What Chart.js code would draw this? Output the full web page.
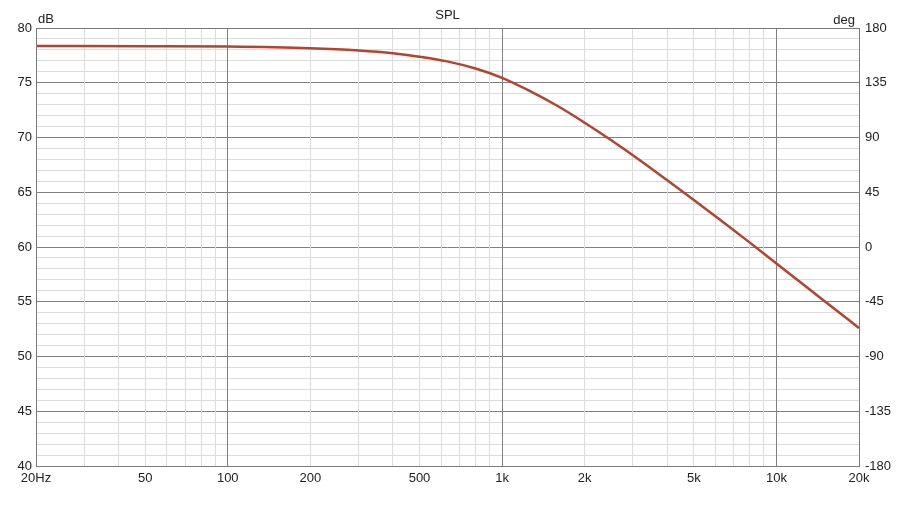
<!DOCTYPE html>
<html lang="en">
<head>
  <meta charset="UTF-8">
  <title>SPL</title>
  <script src="https://cdn.jsdelivr.net/npm/chart.js"></script>
  <style>
    body { margin: 0; background: #fff; }
    .wrap { width: 901px; height: 507px; position: relative; }
  </style>
</head>
<body>
  <div class="wrap"><canvas id="splChart"></canvas></div>

  <script>
    // frequency points (Hz) and SPL (dB)
    const freqs = [20, 50, 100, 200, 300, 400, 500, 630, 800, 1000, 1250, 1600, 2000,
                   2500, 3150, 4000, 5000, 6300, 8000, 10000, 12500, 16000, 20000];
    const splDb = [78.36, 78.34, 78.3, 78.15, 77.95, 77.7, 77.38, 76.95, 76.3, 75.45, 74.3, 72.85, 71.35,
                   69.75, 68.0, 66.1, 64.3, 62.4, 60.4, 58.5, 56.6, 54.5, 52.6];

    // x gridlines and which ones carry a label
    const xGrid = [20, 30, 40, 50, 60, 70, 80, 90, 100, 200, 300, 400, 500, 600, 700, 800, 900,
                   1000, 2000, 3000, 4000, 5000, 6000, 7000, 8000, 9000, 10000, 20000];
    const xLabelValues = [20, 50, 100, 200, 500, 1000, 2000, 5000, 10000, 20000];
    const xLabelTexts = ['20Hz', '50', '100', '200', '500', '1k', '2k', '5k', '10k', '20k'];
    const xMajor = [100, 1000, 10000];

    const font = { family: 'Liberation Sans, Arial, sans-serif', size: 13 };
    const textColor = '#222';
    const minorGrid = '#dcdcdc';
    const majorGrid = '#808080';

    // border, title and unit labels
    const frame = {
      id: 'frame',
      afterDraw(chart) {
        const { ctx, chartArea: a } = chart;
        ctx.save();
        ctx.strokeStyle = '#7a7a7a';
        ctx.lineWidth = 1;
        ctx.strokeRect(Math.round(a.left) + 0.5, Math.round(a.top) + 0.5,
                       Math.round(a.right - a.left), Math.round(a.bottom - a.top));
        ctx.fillStyle = textColor;
        ctx.font = '13px ' + font.family;
        ctx.textBaseline = 'middle';
        ctx.textAlign = 'center';
        ctx.fillText('SPL', (a.left + a.right) / 2, 15);
        ctx.textAlign = 'left';
        ctx.fillText('dB', a.left + 2, 19);
        ctx.textAlign = 'right';
        ctx.fillText('deg', a.right - 4, 20);
        ctx.restore();
      }
    };

    new Chart(document.getElementById('splChart'), {
      type: 'line',
      data: {
        datasets: [{
          label: 'SPL',
          data: freqs.map((f, i) => ({ x: f, y: splDb[i] })),
          borderColor: '#b4432f',
          borderWidth: 2.5,
          pointRadius: 0,
          cubicInterpolationMode: 'monotone',
          fill: false
        }]
      },
      options: {
        responsive: true,
        maintainAspectRatio: false,
        animation: false,
        devicePixelRatio: 1,
        layout: { padding: { top: 28, left: 0, right: 0, bottom: 0 } },
        plugins: { legend: { display: false }, tooltip: { enabled: false } },
        scales: {
          x: {
            type: 'logarithmic',
            min: 20,
            max: 20000,
            afterBuildTicks: s => { s.ticks = xGrid.map(v => ({ value: v })); },
            afterFit: s => { s.height = 41; },
            grid: {
              drawTicks: false,
              z: -1,
              color: c => xMajor.includes(c.tick.value) ? majorGrid : minorGrid
            },
            border: { display: false },
            ticks: {
              autoSkip: false,
              maxRotation: 0,
              padding: 5,
              color: textColor,
              font: font,
              callback: v => {
                const i = xLabelValues.indexOf(v);
                return i >= 0 ? xLabelTexts[i] : '';
              }
            }
          },
          y: {
            position: 'left',
            min: 40,
            max: 80,
            afterBuildTicks: s => {
              const t = [];
              for (let v = 40; v <= 80; v++) t.push({ value: v });
              s.ticks = t;
            },
            afterFit: s => { s.width = 36; },
            grid: {
              drawTicks: false,
              z: -2,
              color: c => c.tick.value % 5 === 0 ? majorGrid : minorGrid
            },
            border: { display: false },
            ticks: {
              autoSkip: false,
              padding: 4,
              color: textColor,
              font: font,
              callback: v => v % 5 === 0 ? String(v) : ''
            }
          },
          y2: {
            position: 'right',
            min: -180,
            max: 180,
            afterBuildTicks: s => {
              const t = [];
              for (let v = -180; v <= 180; v += 45) t.push({ value: v });
              s.ticks = t;
            },
            afterFit: s => { s.width = 42; },
            grid: { display: false, drawTicks: false },
            border: { display: false },
            ticks: {
              autoSkip: false,
              padding: 6,
              color: textColor,
              font: font
            }
          }
        }
      },
      plugins: [frame]
    });
  </script>
</body>
</html>
